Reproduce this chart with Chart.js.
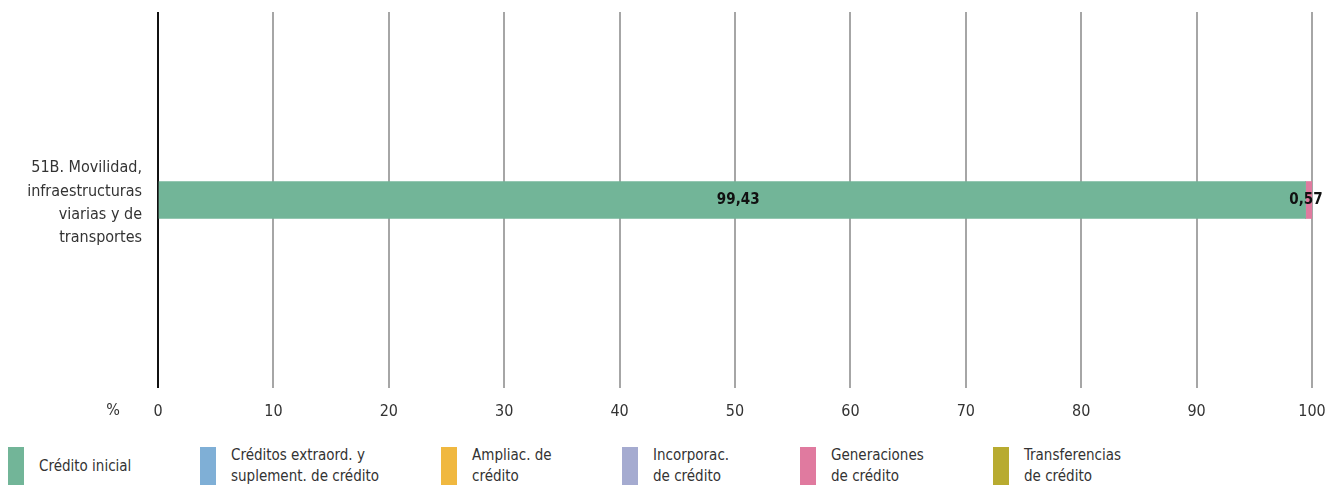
<!DOCTYPE html>
<html>
<head>
<meta charset="utf-8">
<script src="https://cdn.jsdelivr.net/npm/chart.js@4.4.0/dist/chart.umd.min.js"></script>
<style>
  html, body { margin: 0; padding: 0; background: #fff; }
  body { width: 1336px; height: 488px; position: relative; overflow: hidden;
         font-family: "DejaVu Sans Condensed", "Liberation Sans Narrow", sans-serif; }
  #wrap { position: absolute; left: 0; top: 0; width: 1336px; height: 432px; }
  .lg { position: absolute; top: 447px; height: 38px; }
  .lg .sw { position: absolute; left: 0; top: 0; width: 16px; height: 38px; }
  .lg .tx { position: absolute; left: 31px; top: 0; height: 38px; display: flex; align-items: center;
            font-size: 15px; line-height: 21px; color: #333; white-space: nowrap; }
</style>
</head>
<body>
<div id="wrap"><canvas id="c" width="1336" height="432"></canvas></div>
<div id="legend"></div>
<script>
// data
const categories = [['51B. Movilidad,', 'infraestructuras', 'viarias y de', 'transportes']];
const seriesLabels = [
  'Crédito inicial',
  'Créditos extraord. y\nsuplement. de crédito',
  'Ampliac. de\ncrédito',
  'Incorporac.\nde crédito',
  'Generaciones\nde crédito',
  'Transferencias\nde crédito'
];
const seriesValues = [
  [99.43],
  [0],
  [0],
  [0],
  [0.57],
  [0]
];
const seriesColors = ['#72b598', '#7fafd6', '#f0b840', '#a5abd0', '#e07a9f', '#b8ab30'];
const xTicks = [0, 10, 20, 30, 40, 50, 60, 70, 80, 90, 100];

const FONT = '"DejaVu Sans Condensed", "Liberation Sans Narrow", sans-serif';

// value labels + "%" unit label
const labelPlugin = {
  id: 'valueLabels',
  afterDatasetsDraw(chart) {
    const ctx = chart.ctx;
    ctx.save();
    ctx.font = 'bold 15px ' + FONT;
    ctx.fillStyle = '#111';
    ctx.textBaseline = 'middle';
    ctx.textAlign = 'center';
    chart.data.datasets.forEach((ds, i) => {
      const meta = chart.getDatasetMeta(i);
      meta.data.forEach((bar, j) => {
        const v = ds.data[j];
        if (!v) return;
        const txt = v.toFixed(2).replace('.', ',');
        if (v > 5) {
          ctx.fillText(txt, (bar.base + bar.x) / 2 + 6, bar.y);
        } else {
          ctx.fillText(txt, bar.x - 6, bar.y);
        }
      });
    });
    ctx.font = '16px ' + FONT;
    ctx.fillStyle = '#333';
    ctx.fillText('%', 113, chart.chartArea.bottom + 23);
    ctx.restore();
  }
};

new Chart(document.getElementById('c'), {
  type: 'bar',
  data: {
    labels: categories,
    datasets: seriesLabels.map((label, i) => ({
      label,
      data: seriesValues[i],
      backgroundColor: seriesColors[i],
      borderWidth: 0,
      barThickness: 37,
    })),
  },
  options: {
    indexAxis: 'y',
    responsive: false,
    animation: false,
    layout: { padding: { top: 12, right: 24, left: 0, bottom: 0 } },
    plugins: {
      legend: { display: false },
      tooltip: { enabled: false },
    },
    scales: {
      x: {
        stacked: true,
        min: 0,
        max: 100,
        afterBuildTicks(axis) { axis.ticks = xTicks.map(v => ({ value: v })); },
        afterFit(axis) { axis.height = 44; axis.paddingLeft = 0; axis.paddingRight = 0; },
        border: { display: false },
        grid: {
          drawTicks: false,
          lineWidth: 2,
          color: c => (c.tick && c.tick.value === 0) ? '#111' : '#a6a6a6',
        },
        ticks: {
          padding: 14,
          color: '#333',
          font: { family: FONT, size: 16 },
        },
      },
      y: {
        stacked: true,
        afterFit(axis) { axis.width = 158; axis.paddingTop = 0; axis.paddingBottom = 0; },
        border: { display: false },
        grid: { display: false, drawTicks: false },
        ticks: {
          padding: 16,
          labelOffset: 3,
          color: '#333',
          font: { family: FONT, size: 16, lineHeight: 1.45 },
        },
      },
    },
  },
  plugins: [labelPlugin],
});

// legend
const legendLeft = [8, 200, 441, 622, 800, 993];
const legendEl = document.getElementById('legend');
seriesLabels.forEach((label, i) => {
  const item = document.createElement('div');
  item.className = 'lg';
  item.style.left = legendLeft[i] + 'px';
  const sw = document.createElement('div');
  sw.className = 'sw';
  sw.style.background = seriesColors[i];
  const tx = document.createElement('div');
  tx.className = 'tx';
  tx.innerHTML = label.split('\n').join('<br>');
  item.appendChild(sw);
  item.appendChild(tx);
  legendEl.appendChild(item);
});
</script>
</body>
</html>
